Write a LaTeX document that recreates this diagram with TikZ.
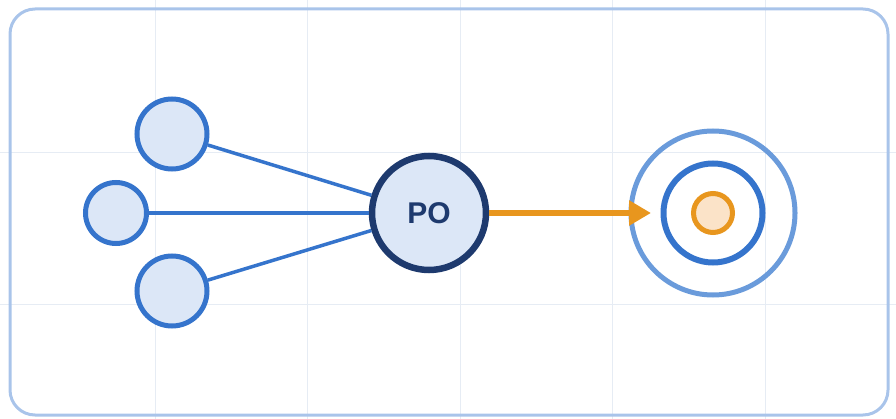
\documentclass[tikz,border=0pt]{standalone}
\usepackage{fontspec}
\setmainfont{Liberation Sans}
\usetikzlibrary{arrows.meta}
\definecolor{gridc}{HTML}{E6ECF4}
\definecolor{framec}{HTML}{A9C4EA}
\definecolor{nodefill}{HTML}{DCE7F7}
\definecolor{nodeline}{HTML}{3574CC}
\definecolor{navy}{HTML}{1E3A6E}
\definecolor{orangec}{HTML}{E8961E}
\definecolor{orangefill}{HTML}{FBE3C8}
\definecolor{outerc}{HTML}{6A9BDB}
\tikzset{
  src/.style={circle, draw=nodeline, fill=nodefill, line width=5pt, inner sep=0pt},
  hub/.style={circle, draw=navy, fill=nodefill, line width=6.5pt, inner sep=0pt, minimum size=114pt,
    font=\fontsize{30}{30}\selectfont\bfseries, text=navy},
  link/.style={draw=nodeline, line width=3.5pt},
  flow/.style={draw=orangec, line width=6pt, -{Triangle[length=22pt,width=24pt]}},
  ring/.style={circle, fill=none, inner sep=0pt},
}
\begin{document}
\begin{tikzpicture}[x=1pt,y=-1pt]
\useasboundingbox (0,0) rectangle (896,419);
% grid
\foreach \gx in {155,307,460,612,765} \draw[gridc, line width=1pt] (\gx,0) -- (\gx,419);
\foreach \gy in {153,305} \draw[gridc, line width=1pt] (0,\gy) -- (896,\gy);
% frame
\draw[framec, line width=3pt, rounded corners=25pt] (10,9) rectangle (888,415);
% source nodes
\node[src, minimum size=70pt] (s1) at (172,134) {};
\node[src, minimum size=61pt] (s2) at (116,213) {};
\node[src, minimum size=70pt] (s3) at (172,291) {};
% hub
\node[hub] (po) at (429,213) {PO};
% target
\node[ring, draw=outerc, line width=5pt, minimum size=164pt] (t1) at (713,213) {};
\node[ring, draw=nodeline, line width=6pt, minimum size=99pt] (t2) at (713,213) {};
\node[ring, draw=orangec, fill=orangefill, line width=5pt, minimum size=39pt] (t3) at (713,213) {};
\coordinate (tip) at (651,213);
% connectors
\draw[link] (s1) -- (po);
\draw[link] (s2) -- (po);
\draw[link] (s3) -- (po);
\draw[flow] (po.east) -- (tip);
\end{tikzpicture}
\end{document}
